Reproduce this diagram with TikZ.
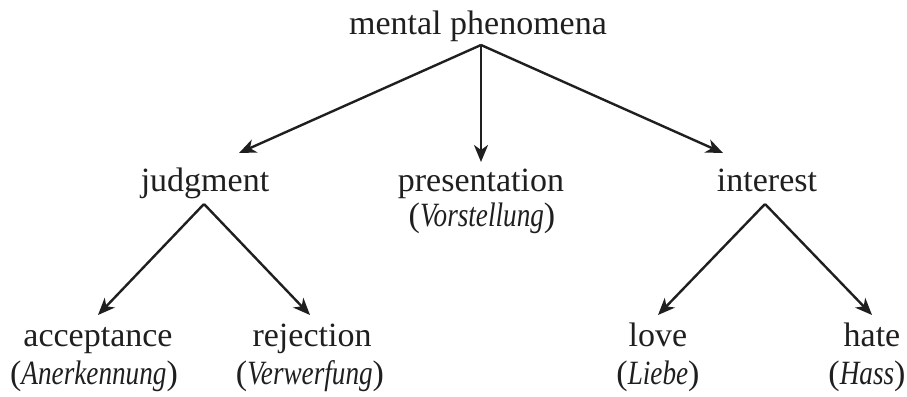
\documentclass[tikz,border=0pt]{standalone}
\usepackage{fontspec}
\setmainfont{Liberation Serif}
\usetikzlibrary{arrows.meta}
\newcommand{\gloss}[1]{(\scalebox{0.8}[1]{\itshape #1})}
\tikzset{
  lbl/.style={anchor=base, inner sep=0pt, font=\fontsize{34}{40}\selectfont, text=black!88},
  arr/.style={line width=2.4pt, draw=black!88, -{Stealth[length=17pt,width=14pt,inset=5pt]}}
}
\begin{document}
\begin{tikzpicture}[x=1pt,y=-1pt]
\useasboundingbox (0,0) rectangle (907,396);
% nodes
\node[lbl] (pm) at (478,35) {mental phenomena};
\node[lbl] (judg) at (205,191) {judgment};
\node[lbl] (pres) at (481,191) {presentation};
\node[lbl] (presg) at (482,226) {\gloss{Vorstellung}};
\node[lbl] (int) at (767,191) {interest};
\node[lbl] (acc) at (98,346) {acceptance};
\node[lbl] (accg) at (94,384) {\gloss{Anerkennung}};
\node[lbl] (rej) at (312,346) {rejection};
\node[lbl] (rejg) at (310,384) {\gloss{Verwerfung}};
\node[lbl] (love) at (658,346) {love};
\node[lbl] (loveg) at (658,384) {\gloss{Liebe}};
\node[lbl] (hate) at (872,346) {hate};
\node[lbl] (hateg) at (867,384) {\gloss{Hass}};
% connector ends
\coordinate (pm-out) at (481,45);
\coordinate (judg-in) at (239,153);
\coordinate (pres-in) at (481,162);
\coordinate (int-in) at (723,153);
\coordinate (judg-out) at (204,204);
\coordinate (int-out) at (765,204);
\coordinate (acc-in) at (98,315);
\coordinate (rej-in) at (310,315);
\coordinate (love-in) at (658,315);
\coordinate (hate-in) at (872,315);
% connectors
\draw[arr] (pm-out) -- (judg-in);
\draw[arr] (pm-out) -- (pres-in);
\draw[arr] (pm-out) -- (int-in);
\draw[arr] (judg-out) -- (acc-in);
\draw[arr] (judg-out) -- (rej-in);
\draw[arr] (int-out) -- (love-in);
\draw[arr] (int-out) -- (hate-in);
\end{tikzpicture}
\end{document}
